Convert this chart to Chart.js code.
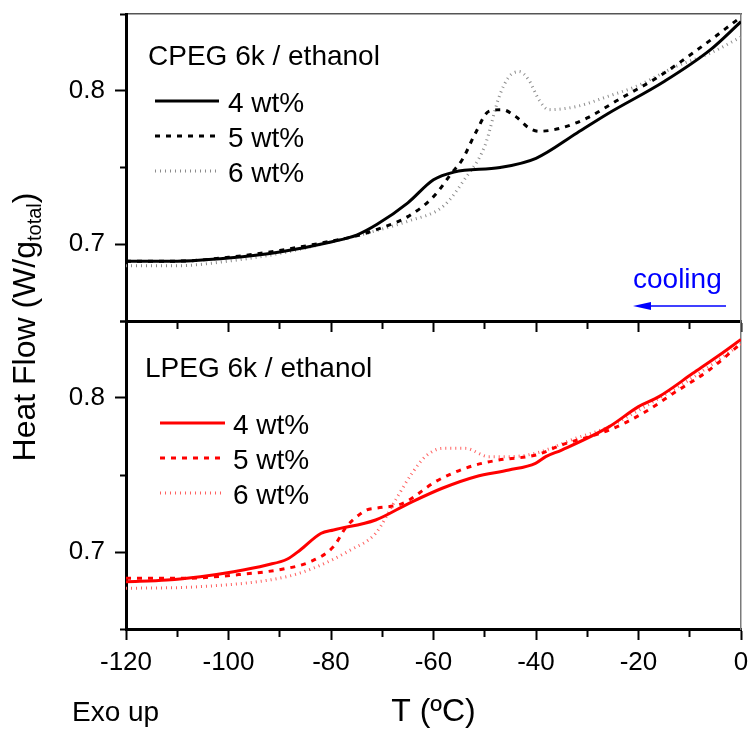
<!DOCTYPE html>
<html>
<head>
<meta charset="utf-8">
<script src="https://cdn.jsdelivr.net/npm/chart.js@4/dist/chart.umd.min.js"></script>
<style>
  body { margin: 0; background: #fff; }
  #wrap { position: relative; width: 751px; height: 731px; font-family: "Liberation Sans", Arial, sans-serif; color: #000; }
  canvas { position: absolute; left: 0; top: 0; }
  #ytitle { position: absolute; left: -206px; top: 307px; width: 460px; height: 40px; line-height: 40px;
            text-align: center; white-space: nowrap; font-size: 32px; transform: rotate(-90deg); }
  #ytitle sub { font-size: 20px; vertical-align: -6px; line-height: 0; }
  #exo { position: absolute; left: 72px; top: 698px; font-size: 28px; line-height: 28px; white-space: nowrap; }
</style>
</head>
<body>
<div id="wrap">
  <canvas id="topChart" width="751" height="345"></canvas>
  <canvas id="bottomChart" width="751" height="731"></canvas>
  <div id="ytitle">Heat Flow (W/g<sub>total</sub>)</div>
  <div id="exo">Exo up</div>
</div>
<script>
// CPEG 6k / ethanol (top panel)
const cpeg4T  = [-120, -110, -100, -90, -80, -75, -71, -65, -60, -56, -47, -40, -32, -26, -15, -6, 0];
const cpeg4HF = [0.689, 0.689, 0.691, 0.695, 0.7015, 0.706, 0.713, 0.727, 0.742, 0.747, 0.750, 0.756, 0.7725, 0.785, 0.806, 0.8266, 0.845];
const cpeg5T  = [-120, -110, -100, -90, -80, -75, -71, -65, -60, -56.4, -54.4, -51.8, -49.2, -46.6, -44, -41.4, -39.4, -35, -30, -24, -16, -9, 0];
const cpeg5HF = [0.689, 0.689, 0.6915, 0.696, 0.702, 0.7055, 0.7097, 0.718, 0.731, 0.7466, 0.755, 0.7725, 0.7866, 0.7877, 0.7833, 0.7758, 0.7736, 0.7758, 0.7823, 0.794, 0.8093, 0.8255, 0.848];
const cpeg6T  = [-120, -110, -100, -90, -80, -71, -65, -58, -54, -50, -47.2, -45.3, -43.3, -41.4, -39.4, -37.5, -32, -26, -20.5, -12.7, -6, 0];
const cpeg6HF = [0.686, 0.686, 0.689, 0.694, 0.7015, 0.709, 0.715, 0.725, 0.742, 0.764, 0.796, 0.809, 0.8125, 0.807, 0.794, 0.7877, 0.7898, 0.7963, 0.8028, 0.8158, 0.8245, 0.835];

// LPEG 6k / ethanol (bottom panel)
const lpeg4T  = [-120, -112, -105.5, -99, -92.5, -88.6, -86, -82, -79.5, -71.3, -64.8, -58.3, -51.8, -45.3, -40.1, -38.1, -35, -25.7, -20, -16, -9.4, -4.2, 0];
const lpeg4HF = [0.6807, 0.6818, 0.684, 0.6872, 0.6916, 0.6953, 0.7013, 0.712, 0.7143, 0.7208, 0.7316, 0.7414, 0.7489, 0.7532, 0.7576, 0.7619, 0.7662, 0.7814, 0.7944, 0.8009, 0.816, 0.8279, 0.838];
const lpeg5T  = [-120, -109, -99, -88.6, -84, -79.5, -77, -75, -73, -71.3, -66, -59.6, -56.3, -51.8, -47.3, -40, -35, -25.7, -19.2, -12.7, -6.2, 0];
const lpeg5HF = [0.6829, 0.6829, 0.685, 0.6894, 0.6937, 0.7035, 0.7164, 0.7229, 0.7273, 0.7284, 0.7316, 0.7457, 0.7511, 0.7565, 0.7597, 0.763, 0.7695, 0.7792, 0.79, 0.8041, 0.8182, 0.8355];
const lpeg6T  = [-120, -105.5, -88.6, -82.7, -76.2, -71.3, -67.4, -64.2, -61.6, -58.3, -53.8, -49.2, -45.3, -40.1, -32.3, -25.7, -20, -10, 0];
const lpeg6HF = [0.6764, 0.6775, 0.684, 0.6905, 0.7013, 0.7121, 0.7338, 0.7511, 0.7619, 0.7673, 0.7673, 0.7619, 0.7619, 0.7641, 0.7738, 0.7814, 0.792, 0.812, 0.835];

const seriesLabels = ['4 wt%', '5 wt%', '6 wt%'];
const xTickLabels = [-120, -100, -80, -60, -40, -20, 0];
const yTickLabels = [0.7, 0.8];

const FONT = '"Liberation Sans", Arial, sans-serif';
Chart.defaults.font.family = FONT;
Chart.defaults.color = '#000';

const toPoints = (xs, ys) => xs.map((x, i) => ({ x: x, y: ys[i] }));
const isMajorX = v => xTickLabels.some(t => Math.abs(t - v) < 1e-6);
const isMajorY = v => yTickLabels.some(t => Math.abs(t - v) < 1e-6);

function makeSet(label, xs, ys, color, width, dash) {
  return {
    label: label, data: toPoints(xs, ys), borderColor: color, borderWidth: width,
    borderDash: dash, pointRadius: 0, fill: false, cubicInterpolationMode: 'monotone'
  };
}

// legend + notes drawn inside each panel
const panelLegend = {
  id: 'panelLegend',
  afterDraw(chart, args, o) {
    const ctx = chart.ctx;
    ctx.save();
    ctx.font = '28px ' + FONT;
    ctx.fillStyle = '#000';
    ctx.textBaseline = 'alphabetic';
    ctx.fillText(o.title, o.titleX, o.titleY);
    chart.data.datasets.forEach((ds, i) => {
      const y = o.rowY + i * o.pitch;
      ctx.save();
      ctx.strokeStyle = ds.borderColor;
      ctx.lineWidth = ds.borderWidth;
      ctx.setLineDash(ds.borderDash || []);
      ctx.beginPath();
      ctx.moveTo(o.lineX0, y);
      ctx.lineTo(o.lineX1, y);
      ctx.stroke();
      ctx.restore();
      ctx.fillText(ds.label, o.textX, y + 11);
    });
    if (o.cooling) {
      ctx.fillStyle = '#0000ff';
      ctx.strokeStyle = '#0000ff';
      ctx.fillText('cooling', 633, 288);
      ctx.lineWidth = 1.5;
      ctx.beginPath();
      ctx.moveTo(645, 306);
      ctx.lineTo(726, 306);
      ctx.stroke();
      ctx.beginPath();
      ctx.moveTo(633, 306);
      ctx.lineTo(651, 302);
      ctx.lineTo(651, 310);
      ctx.closePath();
      ctx.fill();
    }
    ctx.restore();
  }
};

function yScale() {
  return {
    type: 'linear', position: 'left', min: 0.65, max: 0.85,
    ticks: { stepSize: 0.05, padding: 10, font: { size: 26 }, color: '#000',
             callback: v => isMajorY(v) ? v.toFixed(1) : '' },
    grid: { drawOnChartArea: false, tickLength: 11, tickWidth: 2, tickColor: '#000',
            tickBorderDash: c => isMajorY(c.tick.value) ? [] : [0, 5, 6, 20] },
    border: { color: '#000', width: 3 },
    afterFit: s => { s.width = 126; s.paddingTop = 0; s.paddingBottom = 0; }
  };
}
function frameRight() {
  return {
    type: 'linear', position: 'right', min: 0.65, max: 0.85,
    ticks: { display: false }, grid: { display: false },
    border: { color: '#7a7a7a', width: 1.5 },
    afterFit: s => { s.width = 0; s.paddingTop = 0; s.paddingBottom = 0; }
  };
}
function xGrid() {
  return { drawOnChartArea: false, tickLength: 11, tickWidth: 2, tickColor: '#000',
           tickBorderDash: c => isMajorX(c.tick.value) ? [] : [6, 20] };
}

new Chart(document.getElementById('topChart'), {
  type: 'line',
  data: {
    datasets: [
      makeSet(seriesLabels[0], cpeg4T, cpeg4HF, '#000000', 3, []),
      makeSet(seriesLabels[1], cpeg5T, cpeg5HF, '#000000', 3, [5, 6]),
      makeSet(seriesLabels[2], cpeg6T, cpeg6HF, '#8c8c8c', 3, [1, 4])
    ]
  },
  options: {
    responsive: false, devicePixelRatio: 1, animation: false,
    layout: { padding: { left: 0, top: 14, right: 10, bottom: 0 } },
    plugins: {
      legend: { display: false }, tooltip: { enabled: false },
      panelLegend: { title: 'CPEG 6k / ethanol', titleX: 148, titleY: 65,
                     lineX0: 155, lineX1: 219, textX: 228, rowY: 101, pitch: 35, cooling: true }
    },
    scales: {
      x: {
        type: 'linear', position: 'bottom', min: -120, max: 0,
        ticks: { display: false, stepSize: 10, autoSkip: false },
        grid: xGrid(),
        border: { color: '#000', width: 3 },
        afterFit: s => { s.height = 24; s.paddingLeft = 0; s.paddingRight = 0; }
      },
      xTop: {
        type: 'linear', position: 'top', min: -120, max: 0,
        ticks: { display: false }, grid: { display: false },
        border: { color: '#555', width: 1.5 },
        afterFit: s => { s.height = 0; s.paddingLeft = 0; s.paddingRight = 0; }
      },
      y: yScale(),
      yRight: frameRight()
    }
  },
  plugins: [panelLegend]
});

new Chart(document.getElementById('bottomChart'), {
  type: 'line',
  data: {
    datasets: [
      makeSet(seriesLabels[0], lpeg4T, lpeg4HF, '#ff0000', 3, []),
      makeSet(seriesLabels[1], lpeg5T, lpeg5HF, '#ff0000', 3, [5, 6]),
      makeSet(seriesLabels[2], lpeg6T, lpeg6HF, '#ff6060', 3, [1, 4])
    ]
  },
  options: {
    responsive: false, devicePixelRatio: 1, animation: false,
    layout: { padding: { left: 0, top: 321, right: 10, bottom: 0 } },
    plugins: {
      legend: { display: false }, tooltip: { enabled: false },
      panelLegend: { title: 'LPEG 6k / ethanol', titleX: 145, titleY: 377,
                     lineX0: 160, lineX1: 225, textX: 233, rowY: 423, pitch: 35, cooling: false }
    },
    scales: {
      x: {
        type: 'linear', position: 'bottom', min: -120, max: 0,
        ticks: { stepSize: 10, autoSkip: false, maxRotation: 0, minRotation: 0, padding: 7,
                 font: { size: 26 }, color: '#000',
                 callback: v => isMajorX(v) ? String(v) : '' },
        grid: xGrid(),
        border: { color: '#000', width: 3 },
        title: { display: true, text: 'T (ºC)', font: { size: 32 }, color: '#000', padding: { top: 0, bottom: 0 } },
        afterFit: s => { s.height = 102; s.paddingLeft = 0; s.paddingRight = 0; }
      },
      y: yScale(),
      yRight: frameRight()
    }
  },
  plugins: [panelLegend]
});
</script>
</body>
</html>
